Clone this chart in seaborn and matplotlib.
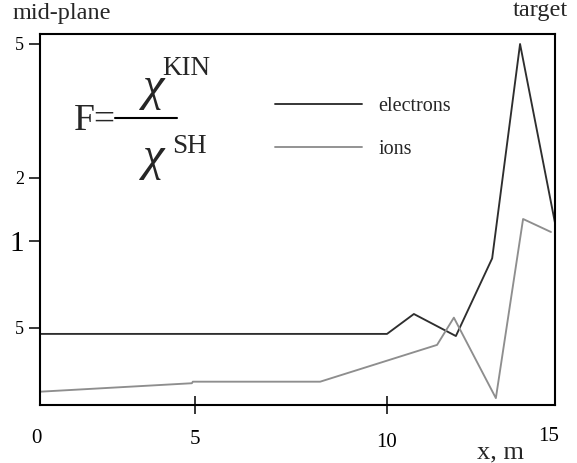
import numpy as np
import pandas as pd
import matplotlib
matplotlib.use("Agg")
import matplotlib.pyplot as plt
import matplotlib.transforms as mtransforms
from matplotlib.ticker import FixedLocator, FixedFormatter
import seaborn as sns

# ---- data -------------------------------------------------------------
x_electrons = [0.0, 10.0, 10.8, 12.05, 13.13, 13.96, 15.0]
F_electrons = [0.477, 0.477, 0.559, 0.469, 0.871, 5.0, 1.22]

x_ions = [0.0, 4.90, 4.93, 8.26, 11.49, 11.99, 13.24, 14.05, 14.88]
F_ions = [0.301, 0.322, 0.326, 0.326, 0.437, 0.543, 0.286, 1.274, 1.104]

series_names = ["electrons", "ions"]
x_tick_values = [0, 5, 10, 15]
x_tick_labels = ["0", "5", "10", "15"]
y_tick_values = [0.5, 1, 2, 5]
y_tick_labels = ["5", "1", "2", "5"]

# ---- axis geometry (non-uniform axes of the original drawing) ----------
X_KNOTS_PX = [0, 155, 347, 515]        # tick spacing along x
Y_KNOTS_PX = [0, 87, 150, 284]         # tick spacing along y (above 0.5)
Y_RANGE_PX = (-77, 294)


def _pw(t, kx, ky):
    t = np.asarray(t, dtype=float)
    kx = np.asarray(kx, float)
    ky = np.asarray(ky, float)
    out = np.interp(t, kx, ky)
    lo = (ky[1] - ky[0]) / (kx[1] - kx[0])
    hi = (ky[-1] - ky[-2]) / (kx[-1] - kx[-2])
    out = np.where(t < kx[0], ky[0] + (t - kx[0]) * lo, out)
    out = np.where(t > kx[-1], ky[-1] + (t - kx[-1]) * hi, out)
    return out


def x_fwd(v):
    return _pw(v, x_tick_values, X_KNOTS_PX)


def x_inv(u):
    return _pw(u, X_KNOTS_PX, x_tick_values)


_ylog = np.log10(y_tick_values)


def y_fwd(v):
    v = np.asarray(v, dtype=float)
    with np.errstate(divide="ignore", invalid="ignore"):
        lv = np.log10(np.where(v > 0, v, np.nan))
    return _pw(lv, _ylog, Y_KNOTS_PX)


def y_inv(u):
    return 10 ** _pw(u, Y_KNOTS_PX, _ylog)


# ---- frame ------------------------------------------------------------
W, H = 577, 463
sns.set_style("white")
plt.rcParams["font.family"] = ["Liberation Serif", "DejaVu Serif"]

fig = plt.figure(figsize=(W / 100, H / 100), dpi=100)
ax = fig.add_axes([40 / W, 1 - 405 / H, 515 / W, 371 / H])


def fx(px):
    return px / W


def fy(py):
    return 1 - py / H


df = pd.concat([
    pd.DataFrame({"x": x_electrons, "F": F_electrons, "species": series_names[0]}),
    pd.DataFrame({"x": x_ions, "F": F_ions, "species": series_names[1]}),
], ignore_index=True)

palette = {"electrons": "#2e2e2e", "ions": "#8e8e8e"}
sns.lineplot(data=df, x="x", y="F", hue="species", palette=palette,
             sort=False, estimator=None, linewidth=1.35, ax=ax)

ax.set_xscale("function", functions=(x_fwd, x_inv))
ax.set_yscale("function", functions=(y_fwd, y_inv))
ax.set_xlim(0, 15)
ax.set_ylim(float(y_inv(Y_RANGE_PX[0])), float(y_inv(Y_RANGE_PX[1])))

ax.xaxis.set_major_locator(FixedLocator(x_tick_values))
ax.xaxis.set_major_formatter(FixedFormatter(x_tick_labels))
ax.yaxis.set_major_locator(FixedLocator(y_tick_values))
ax.yaxis.set_major_formatter(FixedFormatter(y_tick_labels))
ax.xaxis.set_minor_locator(FixedLocator([]))
ax.yaxis.set_minor_locator(FixedLocator([]))
ax.set_xlabel("")
ax.set_ylabel("")

for sp in ax.spines.values():
    sp.set_color("black")
    sp.set_linewidth(1.5)

ax.tick_params(axis="x", bottom=True, direction="inout", length=13, width=1.1,
               color="black", pad=11, labelsize=15, labelcolor="black")
ax.tick_params(axis="y", left=True, direction="out", length=8, width=1.1,
               color="black", pad=3.5, labelsize=13, labelcolor="black")

xticks = ax.xaxis.get_major_ticks()
xticks[0].tick1line.set_visible(False)
xticks[-1].tick1line.set_visible(False)
# hand-placed offsets of a few x labels, in pixels
shifts = {0: (-4, 0), 5: (0, -1), 10: (0, -4), 15: (-6, 2)}
for val, tk in zip(x_tick_values, xticks):
    if val in shifts:
        dx, dy = shifts[val]
        off = mtransforms.ScaledTranslation(dx / 100, dy / 100, fig.dpi_scale_trans)
        tk.label1.set_transform(tk.label1.get_transform() + off)

for val, tk in zip(y_tick_values, ax.yaxis.get_major_ticks()):
    if val == 1:
        tk.label1.set_fontsize(21)

# ---- legend -----------------------------------------------------------
handles, labels = ax.get_legend_handles_labels()
ax.legend(handles, labels, loc="upper left",
          bbox_to_anchor=(fx(275), fy(97)), bbox_transform=fig.transFigure,
          frameon=False, handlelength=4.3, handletextpad=0.85,
          labelspacing=1.2, borderpad=0, borderaxespad=0,
          prop={"family": "Liberation Serif", "size": 14.5})

# ---- annotations ------------------------------------------------------
fig.text(fx(13), fy(19), "mid-plane", fontsize=17.5, ha="left", va="baseline")
fig.text(fx(568), fy(16), "target", fontsize=17.5, ha="right", va="baseline")
fig.text(fx(477), fy(458), "x, m", fontsize=19, ha="left", va="baseline")

# formula F = chi^KIN / chi^SH
fig.text(fx(74), fy(130), "F=", fontsize=27, ha="left", va="baseline")
fig.add_artist(plt.Line2D([fx(115), fx(177)], [fy(118), fy(118)],
                          color="black", linewidth=1.5, transform=fig.transFigure))
fig.text(fx(154), fy(100), "χ", fontsize=35, style="italic", ha="center", va="baseline")
fig.text(fx(162), fy(75), "KIN", fontsize=19.5, ha="left", va="baseline")
fig.text(fx(154), fy(170), "χ", fontsize=35, style="italic", ha="center", va="baseline")
fig.text(fx(172), fy(153), "SH", fontsize=19.5, ha="left", va="baseline")

fig.savefig("out.png", dpi=100)
